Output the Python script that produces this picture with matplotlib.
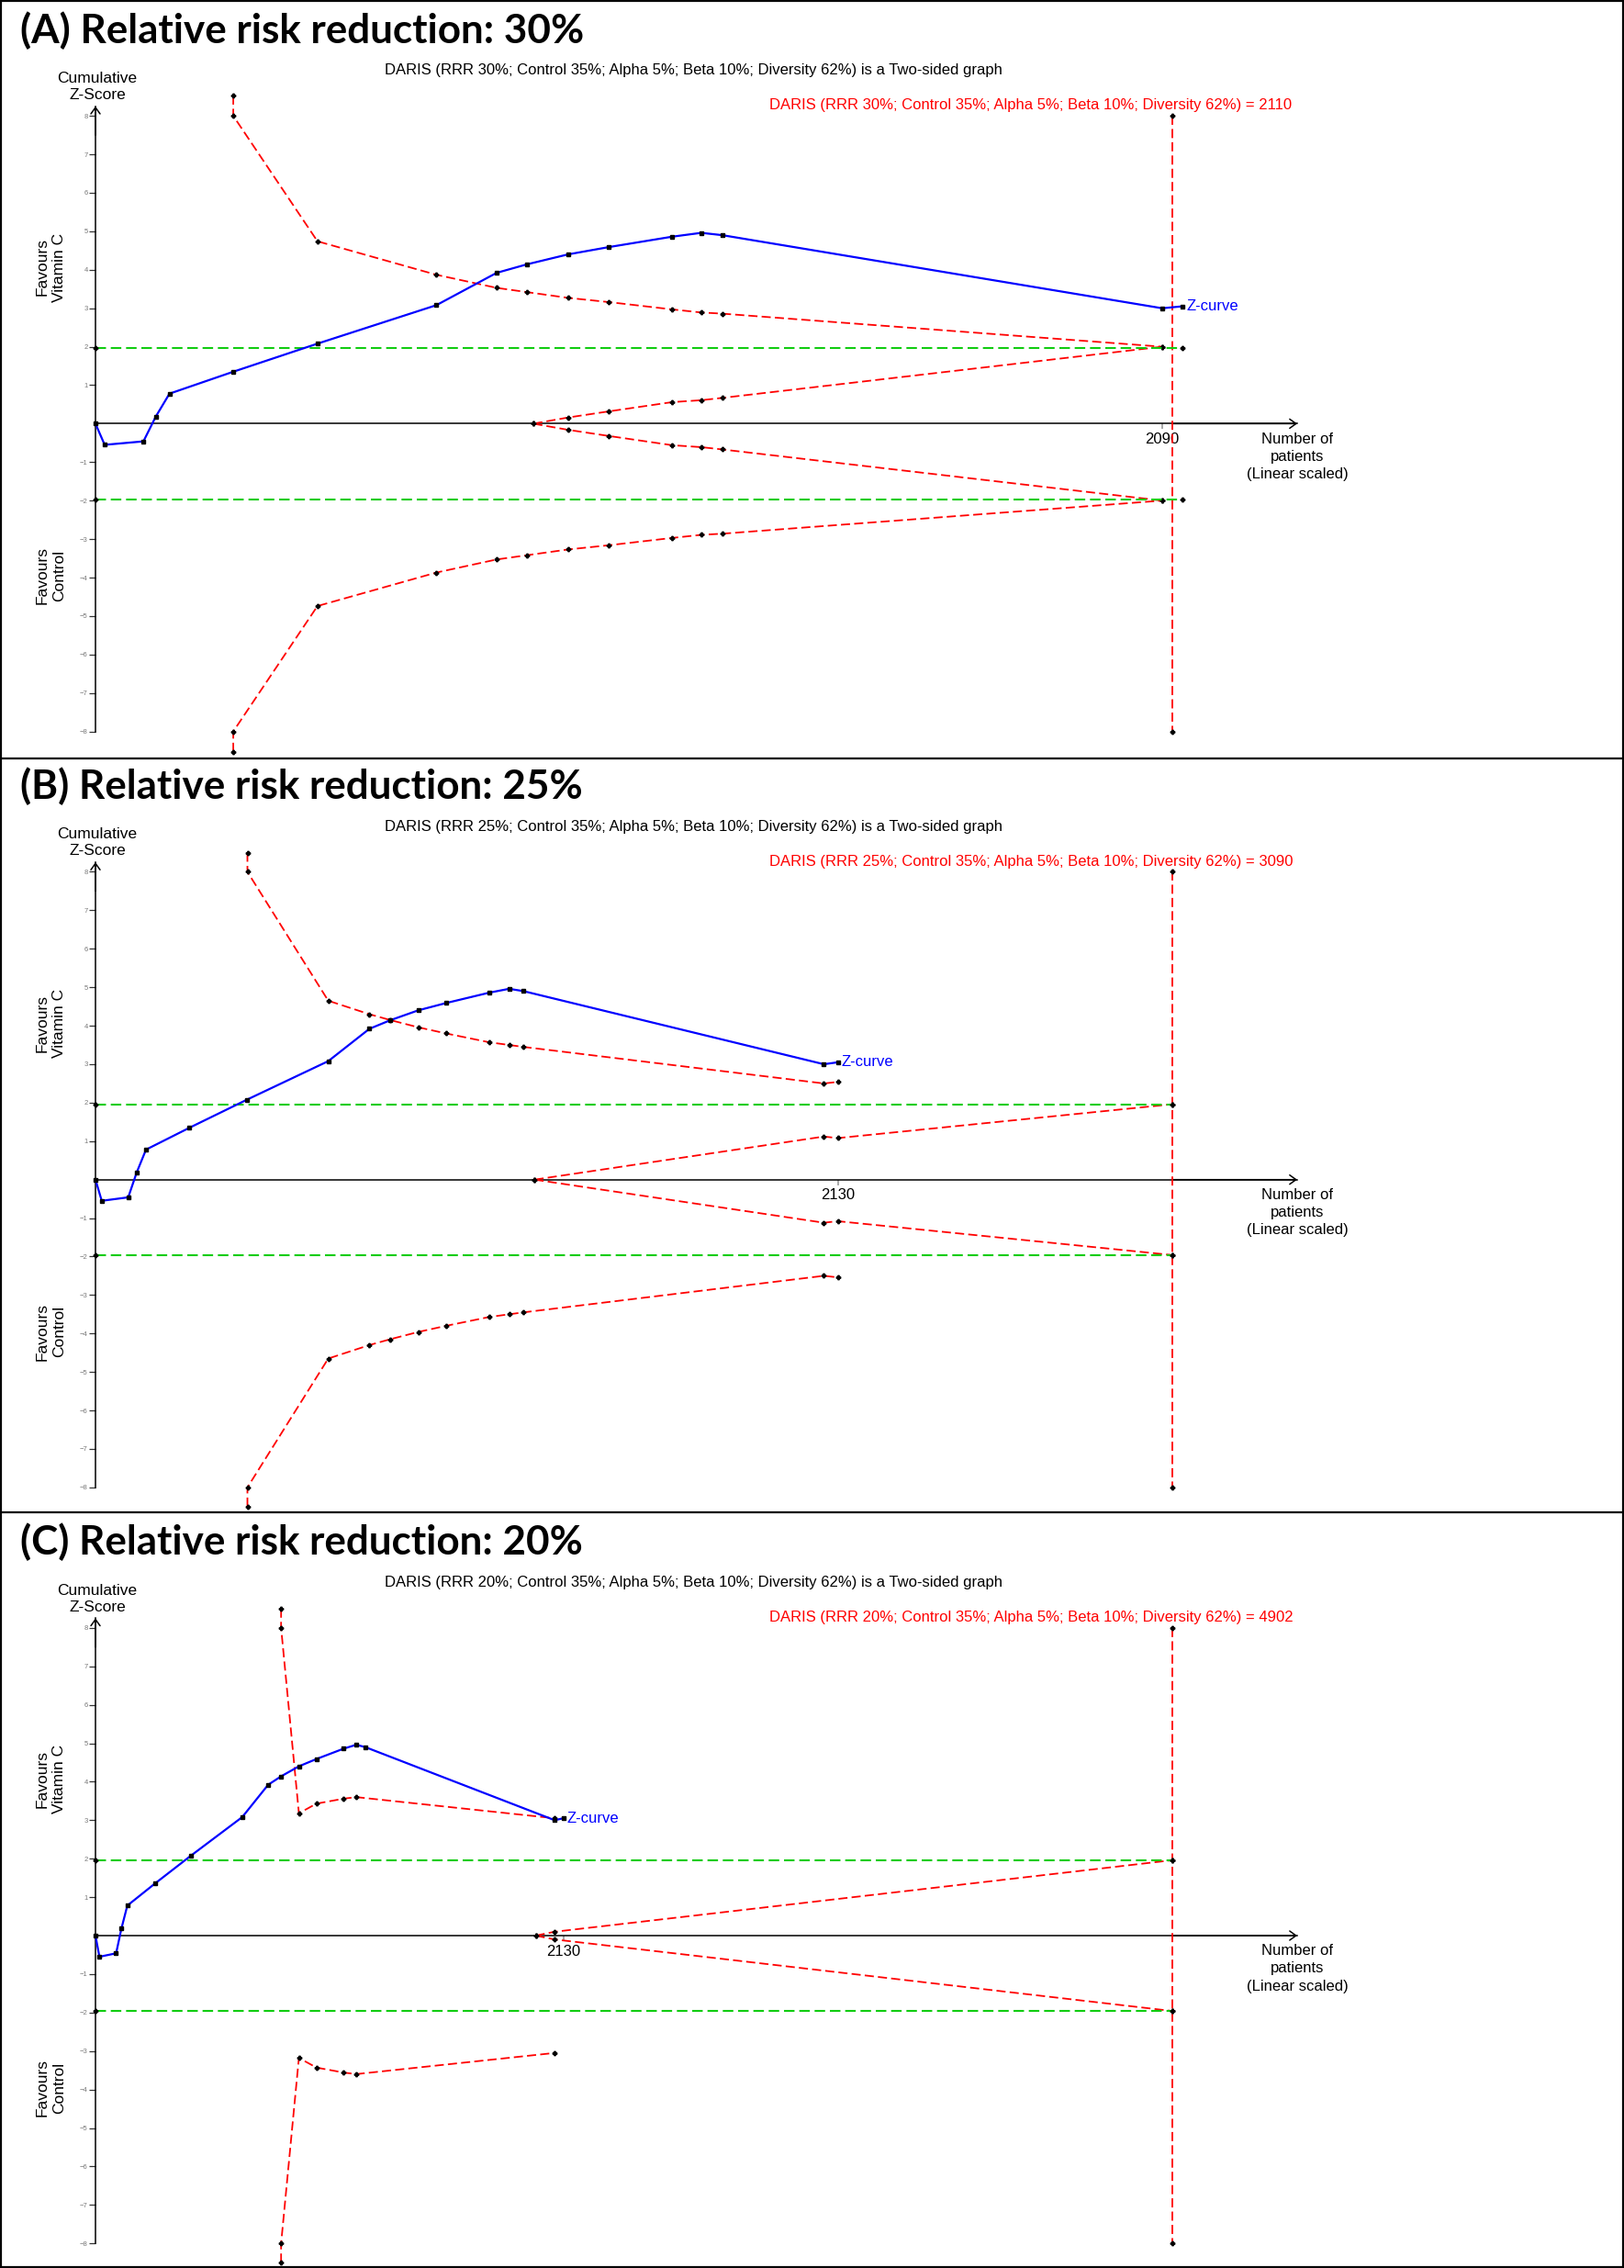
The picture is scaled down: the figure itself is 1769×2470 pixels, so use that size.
import matplotlib
matplotlib.use('Agg')
import matplotlib.pyplot as plt
from matplotlib.lines import Line2D

W, H = 1769, 2470
PANEL_H = 823.3

# cumulative trial sequence (same for every panel)
z_patients = [0, 18, 94, 118, 145, 270, 435, 668, 786, 845, 926, 1006, 1130, 1187, 1228, 2090, 2130]
z_scores = [0, -0.55, -0.46, 0.18, 0.78, 1.35, 2.08, 3.08, 3.92, 4.14, 4.40, 4.59, 4.86, 4.96, 4.90, 3.00, 3.05]

panel_titles = ['(A) Relative risk reduction: 30%',
                '(B) Relative risk reduction: 25%',
                '(C) Relative risk reduction: 20%']
rrr_values = [30, 25, 20]
ris_values = [2110, 3090, 4902]
tick_values = [2090, 2130, 2130]

# alpha-spending (monitoring) boundaries, upper half; first two points are the off-scale marker and the clipped value
bound_a_n = [270, 270, 435, 668, 786, 845, 926, 1006, 1130, 1187, 1228, 2090]
bound_a_z = [8.53, 8.0, 4.74, 3.87, 3.53, 3.42, 3.27, 3.16, 2.97, 2.89, 2.86, 2.0]
bound_b_n = [436, 436, 668, 786, 845, 926, 1006, 1130, 1187, 1228, 2090, 2130]
bound_b_z = [8.5, 8.0, 4.65, 4.30, 4.15, 3.96, 3.80, 3.57, 3.50, 3.45, 2.50, 2.54]
bound_c_n = [845, 845, 926, 1006, 1130, 1187, 2090]
bound_c_z = [8.5, 8.0, 3.18, 3.43, 3.56, 3.60, 3.05]

# futility (inner wedge) boundaries, upper half
fut_a_n = [858, 926, 1006, 1130, 1187, 1228, 2090]
fut_a_z = [0, 0.16, 0.32, 0.56, 0.61, 0.67, 2.0]
fut_b_n = [1260, 2090, 2130, 3090]
fut_b_z = [0, 1.12, 1.08, 1.96]
fut_c_n = [2004, 2090, 4902]
fut_c_z = [0, 0.10, 1.96]

bounds = [(bound_a_n, bound_a_z), (bound_b_n, bound_b_z), (bound_c_n, bound_c_z)]
futs = [(fut_a_n, fut_a_z), (fut_b_n, fut_b_z), (fut_c_n, fut_c_z)]

conv_z = 1.96
z_px = 41.9          # pixels per z unit
ris_px = 1173        # pixels from origin to RIS line
x0_px = 104


def fx(x):
    return x / W


def fy(y):
    return 1 - y / H


fig = plt.figure(figsize=(W / 100, H / 100), dpi=100)
plt.rcParams['font.family'] = ['Liberation Sans', 'DejaVu Sans']

red_dash = dict(color='red', lw=1.3, dashes=(5.5, 2.5))
dot = dict(marker='P', ms=3.2, mfc='black', mec='black')

for k in range(3):
    T = k * PANEL_H
    ris = ris_values[k]
    xmax = (1700 - x0_px) / ris_px * ris
    bottom = T + 461.4 + 8.7 * z_px
    top = T + 461.4 - 9.0 * z_px
    ax = fig.add_axes([fx(x0_px), fy(bottom), (1700 - x0_px) / W, (bottom - top) / H])
    ax.set_xlim(0, xmax)
    ax.set_ylim(-8.7, 9.0)
    ax.patch.set_visible(False)
    for s in ['top', 'right']:
        ax.spines[s].set_visible(False)
    ax.spines['bottom'].set_position(('data', 0))
    ax.spines['bottom'].set_bounds(0, 1.116 * ris)
    ax.spines['left'].set_bounds(-8, 8.25)
    ax.spines['bottom'].set_linewidth(1.1)
    ax.spines['left'].set_linewidth(1.1)

    # axis arrow heads
    arr = dict(arrowstyle='->,head_length=0.5,head_width=0.36', lw=1.1, color='black',
               shrinkA=0, shrinkB=0, mutation_scale=10)
    ax.annotate('', xy=(1.116 * ris, 0), xytext=(1.0 * ris, 0), arrowprops=arr)
    ax.annotate('', xy=(0, 8.25), xytext=(0, 7.5), arrowprops=arr)

    yt = [v for v in range(-8, 9) if v != 0]
    ax.set_yticks(yt, labels=[str(v).replace('-', '\u2212') for v in yt])
    ax.tick_params(axis='y', direction='out', length=5, width=0.9, pad=1,
                   labelsize=5.5, labelcolor='#777777', color='#333333')
    ax.set_xticks([tick_values[k]], labels=[str(tick_values[k])])
    ax.tick_params(axis='x', direction='out', length=4, width=1.2, pad=3,
                   labelsize=12, color='#999999')

    # conventional boundaries
    xg = max(ris, z_patients[-1])
    for s in [1, -1]:
        ax.plot([0, xg], [s * conv_z] * 2, color='#11cc11', lw=1.5, dashes=(5.5, 2.5),
                zorder=4, **dot)

    # RIS line
    ax.plot([ris, ris], [8, -8], zorder=3, **red_dash, **dot)

    # monitoring boundaries
    bn, bz = bounds[k]
    fn, fz = futs[k]
    for s in [1, -1]:
        ax.plot(bn, [s * v for v in bz], zorder=3, **red_dash, **dot)
        ax.plot(fn, [s * v for v in fz], zorder=3, **red_dash, **dot)

    # z-curve
    ax.plot(z_patients, z_scores, color='blue', lw=1.6, marker='s', ms=2.6,
            mfc='black', mec='black', zorder=5)
    ax.annotate('Z-curve', xy=(z_patients[-1], z_scores[-1]), xytext=(3, 0),
                textcoords='offset points', color='blue', fontsize=12,
                va='center', ha='left')

    for a in ax.lines:
        a.set_clip_on(False)

    # text around the axes
    ax.text(1.116 * ris, -0.22, 'Number of\npatients\n(Linear scaled)', ha='center',
            va='top', fontsize=12, linespacing=1.35)
    fig.text(fx(106), fy(T + 94.5), 'Cumulative\nZ-Score', ha='center', va='center',
             fontsize=12.5, linespacing=1.25)
    fig.text(fx(55), fy(T + 291), 'Favours\nVitamin C', ha='center', va='center',
             rotation=90, fontsize=12.5, linespacing=1.3)
    fig.text(fx(55), fy(T + 627), 'Favours\nControl', ha='center', va='center',
             rotation=90, fontsize=12.5, linespacing=1.3)

    daris = (f'DARIS (RRR {rrr_values[k]}%; Control 35%; Alpha 5%; Beta 10%; '
             f'Diversity 62%)')
    fig.text(fx(419), fy(T + 77), daris + ' is a Two-sided graph', ha='left',
             va='center', fontsize=12)
    fig.text(fx(838), fy(T + 115), daris + f' = {ris}', ha='left', va='center',
             fontsize=12, color='red')

    fig.text(fx(22), fy(T + 33), panel_titles[k], ha='left', va='center',
             fontsize=31.7, fontweight='bold', family='Lato')

# panel frames
for y in [1, 826, 1647, 2469]:
    fig.add_artist(Line2D([0, 1], [fy(y), fy(y)], color='black', lw=1.6))
for x in [1, 1768]:
    fig.add_artist(Line2D([fx(x), fx(x)], [0, 1], color='black', lw=1.6))

fig.savefig('out.png', dpi=100)
